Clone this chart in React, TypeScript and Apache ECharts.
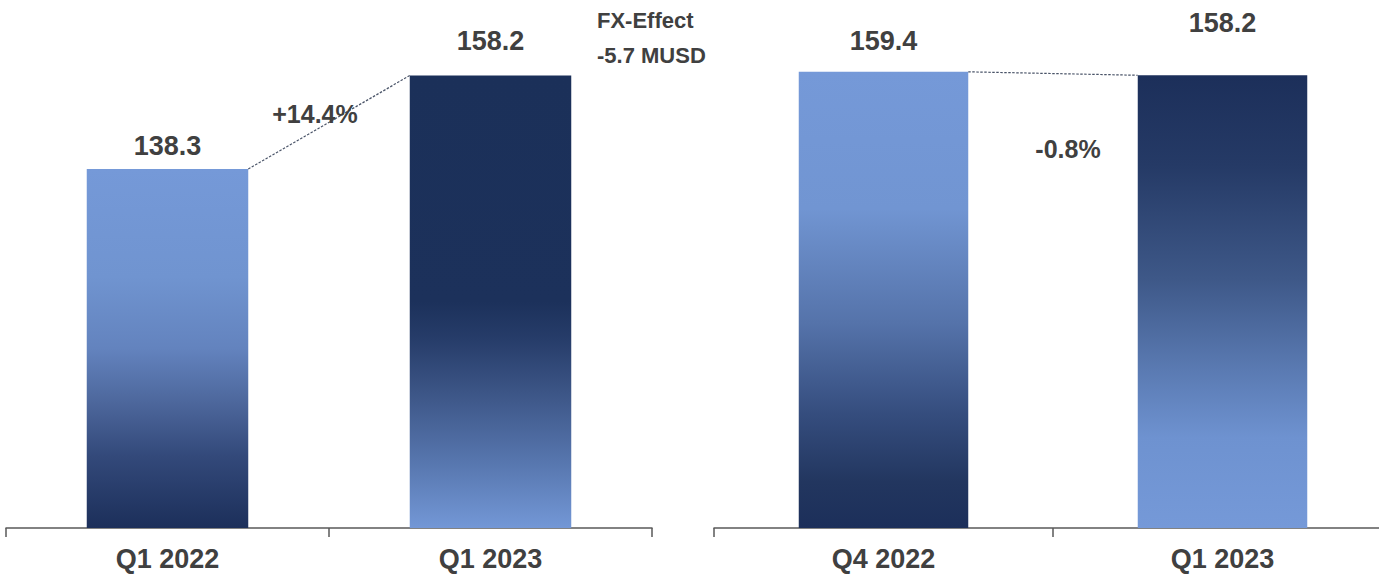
import React, { useEffect, useRef } from "react";
import * as echarts from "echarts";

const categoriesLeft = ["Q1 2022", "Q1 2023"];
const valuesLeft = [138.3, 158.2];
const categoriesRight = ["Q4 2022", "Q1 2023"];
const valuesRight = [159.4, 158.2];
const changeLeft = "+14.4%";
const changeRight = "-0.8%";
const fxLines = ["FX-Effect", "-5.7 MUSD"];

const FONT = '"Liberation Sans", Arial, Helvetica, sans-serif';
const TEXT = "#404040";
const AXIS = "#595959";

const grad = (stops: [number, string][]) =>
  new echarts.graphic.LinearGradient(
    0, 0, 0, 1,
    stops.map(([offset, color]) => ({ offset, color }))
  );

const lightToDarkA = grad([
  [0, "#7599D8"], [0.3, "#7094D0"], [0.5, "#6383BE"], [0.65, "#4D679C"],
  [0.8, "#33497A"], [1, "#1C2F5A"],
]);
const darkToLightA = grad([
  [0, "#1B3059"], [0.5, "#1C315B"], [0.58, "#263C69"], [0.7, "#3C5586"],
  [0.85, "#5675AD"], [1, "#7397D6"],
]);
const lightToDarkB = grad([
  [0, "#7599D8"], [0.3, "#7195D2"], [0.55, "#5573AA"], [0.75, "#354D7E"],
  [0.9, "#22365F"], [1, "#1C2F5A"],
]);
const darkToLightB = grad([
  [0, "#1C2F5A"], [0.2, "#253A66"], [0.45, "#3E5888"], [0.65, "#5A7AB2"],
  [0.8, "#6E92D0"], [1, "#7599D8"],
]);

const leftColors = [lightToDarkA, darkToLightA];
const rightColors = [lightToDarkB, darkToLightB];
const leftLabelDist = [9, 21.5];
const rightLabelDist = [17.5, 39];

const connector = (text: string, textDx: number, textDy: number) =>
  (params: any, api: any) => {
    const v0 = api.value(1);
    const v1 = api.value(3);
    const p0 = api.coord([0, v0]);
    const p1 = api.coord([1, v1]);
    const bw = api.size([1, 0])[0] * 0.5;
    const x0 = p0[0] + bw / 2;
    const x1 = p1[0] - bw / 2;
    const mx = (x0 + x1) / 2;
    const my = (p0[1] + p1[1]) / 2;
    return {
      type: "group",
      children: [
        {
          type: "line",
          shape: { x1: x0, y1: p0[1], x2: x1, y2: p1[1] },
          style: { stroke: "#4A5468", lineWidth: 1.2, lineDash: [2.5, 1.5] },
        },
        {
          type: "text",
          style: {
            text,
            x: mx + textDx,
            y: my + textDy,
            align: "center",
            verticalAlign: "middle",
            fill: TEXT,
            fontSize: 25,
            fontWeight: "bold",
            fontFamily: FONT,
          },
        },
      ],
    };
  };

const axisCommon = {
  type: "category" as const,
  axisLine: { show: true, lineStyle: { color: AXIS, width: 1.5 } },
  axisTick: { show: true, length: 9, lineStyle: { color: AXIS, width: 1.5 } },
  axisLabel: {
    color: TEXT,
    fontSize: 27,
    fontWeight: "bold",
    fontFamily: FONT,
    margin: 17,
  },
};

export default function App() {
  const ref = useRef<HTMLDivElement>(null);
  useEffect(() => {
    if (!ref.current) return;
    const chart = echarts.init(ref.current, undefined, { renderer: "svg" });
    chart.setOption({
      animation: false,
      backgroundColor: "#ffffff",
      grid: [
        { left: 6, width: 646, top: 0, height: 528 },
        { left: 714, width: 678, top: 0, height: 528 },
      ],
      xAxis: [
        { ...axisCommon, gridIndex: 0, data: categoriesLeft },
        { ...axisCommon, gridIndex: 1, data: categoriesRight },
      ],
      yAxis: [
        { type: "value", gridIndex: 0, min: 61.8, max: 174.3, show: false, splitLine: { show: false } },
        { type: "value", gridIndex: 1, min: 0, max: 184.5, show: false, splitLine: { show: false } },
      ],
      series: [
        {
          type: "bar",
          xAxisIndex: 0,
          yAxisIndex: 0,
          barWidth: "50%",
          data: valuesLeft.map((v, i) => ({
            value: v,
            itemStyle: { color: leftColors[i] },
            label: { distance: leftLabelDist[i] },
          })),
          label: {
            show: true,
            position: "top",
            color: TEXT,
            fontSize: 27,
            fontWeight: "bold",
            fontFamily: FONT,
            formatter: (p: any) => p.value.toFixed(1),
          },
        },
        {
          type: "bar",
          xAxisIndex: 1,
          yAxisIndex: 1,
          barWidth: "50%",
          data: valuesRight.map((v, i) => ({
            value: v,
            itemStyle: { color: rightColors[i] },
            label: { distance: rightLabelDist[i] },
          })),
          label: {
            show: true,
            position: "top",
            color: TEXT,
            fontSize: 27,
            fontWeight: "bold",
            fontFamily: FONT,
            formatter: (p: any) => p.value.toFixed(1),
          },
        },
        {
          type: "custom",
          xAxisIndex: 0,
          yAxisIndex: 0,
          silent: true,
          z: 5,
          encode: { x: 0, y: 1 },
          data: [[0, valuesLeft[0], 1, valuesLeft[1]]],
          renderItem: connector(changeLeft, -14, -8),
        },
        {
          type: "custom",
          xAxisIndex: 1,
          yAxisIndex: 1,
          silent: true,
          z: 5,
          encode: { x: 0, y: 1 },
          data: [[0, valuesRight[0], 1, valuesRight[1]]],
          renderItem: connector(changeRight, 15, 75),
        },
      ],
      graphic: fxLines.map((t, i) => ({
        type: "text",
        left: 597,
        top: 9 + i * 35,
        style: {
          text: t,
          fill: TEXT,
          fontSize: 22,
          fontWeight: "bold",
          fontFamily: FONT,
        },
      })),
    });
    return () => chart.dispose();
  }, []);
  return (
    <div
      style={{
        position: "absolute",
        left: 0,
        top: 0,
        width: 1379,
        height: 576,
        overflow: "hidden",
      }}
    >
      <div ref={ref} style={{ width: 1400, height: 576 }} />
    </div>
  );
}
